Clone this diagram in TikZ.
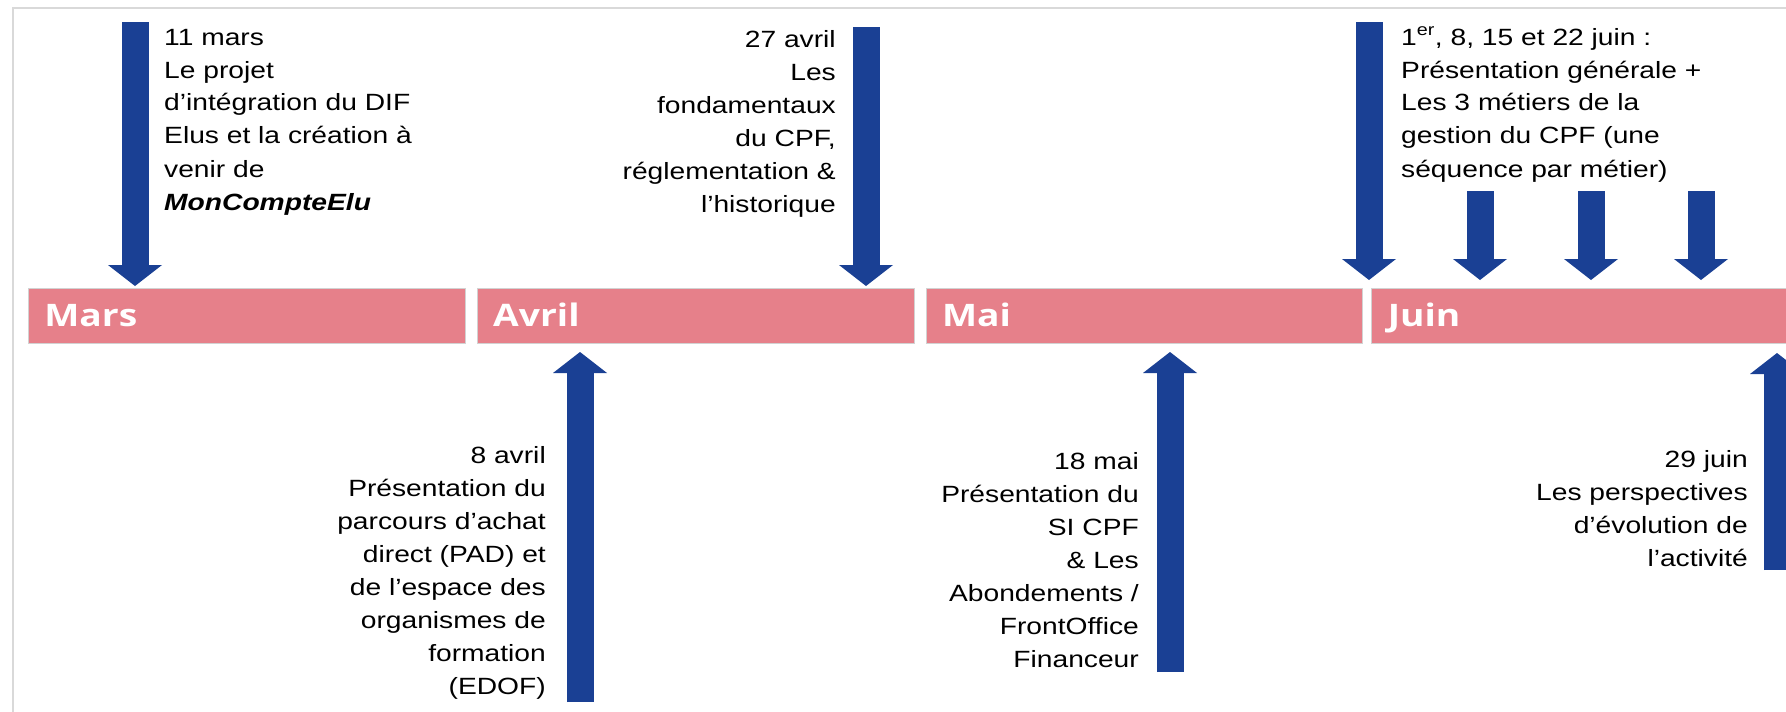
\documentclass[tikz,border=0pt]{standalone}
\usepackage{fontspec}
\setmainfont{Liberation Sans}[FakeStretch=1.2]
\newfontfamily\monthfont{Open Sans}[FakeStretch=1.2]
\usepackage{tikz}
\usetikzlibrary{arrows.meta, positioning}
\definecolor{eventblue}{RGB}{26,64,148}
\definecolor{monthpink}{RGB}{230,128,138}
\definecolor{framegray}{RGB}{217,217,217}
\newcommand{\evtsize}{\fontsize{23.5}{33}\selectfont}

\begin{document}
\begin{tikzpicture}[x=1pt, y=-1pt,
  monthbar/.style={fill=monthpink, draw=gray!35, line width=0.8pt, anchor=north west,
    minimum height=55pt, inner xsep=16pt, inner ysep=0pt, align=left, text=white,
    font=\monthfont\bfseries\fontsize{31}{31}\selectfont, text height=22pt, text depth=0pt},
  evtleft/.style={anchor=base west, inner sep=0pt, font=\evtsize},
  evtright/.style={anchor=base east, inner sep=0pt, font=\evtsize},
  evtarrow/.style={draw=eventblue, line width=27pt,
    -{Triangle[length=21pt, width=54pt, line width=0pt]}}]
  \useasboundingbox (0,0) rectangle (1786,712);
  % slide frame
  \draw[framegray, line width=2pt] (13,714) -- (13,8) -- (1790,8);

  % month bars
  \node[monthbar, text width=405pt] (mars) at (28,288) {Mars};
  \node[monthbar, text width=405pt, right=11pt of mars] (avril) {Avril};
  \node[monthbar, text width=404pt, right=11pt of avril] (mai) {Mai};
  \node[monthbar, text width=405pt, right=9pt of mai] (juin) {Juin};

  % events above the bars
  \coordinate (marsTop) at (135,22);   \coordinate (marsTip) at (135,286);
  \coordinate (avrilTop) at (866,27);  \coordinate (avrilTip) at (866,286);
  \coordinate (juinTop) at (1369,22);  \coordinate (juinTip) at (1369,280);
  \draw[evtarrow] (marsTop) -- (marsTip);
  \draw[evtarrow] (avrilTop) -- (avrilTip);
  \draw[evtarrow] (juinTop) -- (juinTip);
  \foreach \x [count=\i] in {1480,1591,1701} {
    \coordinate (seqTop\i) at (\x,191);
    \coordinate (seqTip\i) at (\x,280);
    \draw[evtarrow] (seqTop\i) -- (seqTip\i);
  }

  \node[evtleft] (txtmars) at (164,45) {\parbox[t]{300pt}{\raggedright
    11 mars\\Le projet\\d’intégration du DIF\\Elus et la création à\\venir de\\
    \textbf{\textit{MonCompteElu}}}};
  \node[evtright] (txtavril) at (836,47) {\parbox[t]{300pt}{\raggedleft
    27 avril\\Les\\fondamentaux\\du CPF,\\réglementation \&\\l’historique}};
  \node[evtleft] (txtjuin) at (1401,45) {\parbox[t]{380pt}{\raggedright
    1\textsuperscript{er}, 8, 15 et 22 juin :\\Présentation générale +\\
    Les 3 métiers de la\\gestion du CPF (une\\séquence par métier)}};

  % events below the bars
  \coordinate (edofEnd) at (580,702);  \coordinate (edofTip) at (580,352);
  \coordinate (siEnd) at (1170,672);   \coordinate (siTip) at (1170,352);
  \coordinate (perspEnd) at (1777,570); \coordinate (perspTip) at (1777,353);
  \draw[evtarrow] (edofEnd) -- (edofTip);
  \draw[evtarrow] (siEnd) -- (siTip);
  \draw[evtarrow] (perspEnd) -- (perspTip);

  \node[evtright] (txtedof) at (546,463) {\parbox[t]{300pt}{\raggedleft
    8 avril\\Présentation du\\parcours d’achat\\direct (PAD) et\\de l’espace des\\
    organismes de\\formation\\(EDOF)}};
  \node[evtright] (txtsi) at (1139,469) {\parbox[t]{300pt}{\raggedleft
    18 mai\\Présentation du\\SI CPF\\\& Les\\Abondements /\\FrontOffice\\Financeur}};
  \node[evtright] (txtpersp) at (1748,467) {\parbox[t]{300pt}{\raggedleft
    29 juin\\Les perspectives\\d’évolution de\\l’activité}};
\end{tikzpicture}
\end{document}
